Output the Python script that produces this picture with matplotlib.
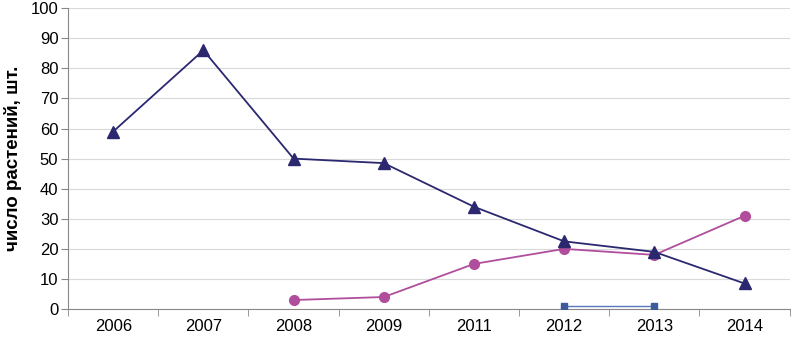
import matplotlib
matplotlib.use("Agg")
import matplotlib.pyplot as plt
import numpy as np

plt.rcParams["font.family"] = ["Liberation Sans", "DejaVu Sans"]

years = ["2006", "2007", "2008", "2009", "2011", "2012", "2013", "2014"]
triangles = [59, 86, 50, 48.5, 34, 22.5, 19, 8.5]
circles = [np.nan, np.nan, 3, 4, 15, 20, 18, 31]
squares = [np.nan, np.nan, np.nan, np.nan, np.nan, 1, 1, np.nan]

fig = plt.figure(figsize=(7.92, 3.40), dpi=100)
ax = fig.add_axes([0.086, 0.091, 0.911, 0.885])

x = np.arange(len(years))
ax.plot(x, triangles, color="#2b2870", lw=1.3, marker="^", ms=8, zorder=4)
ax.plot(x, circles, color="#b04e9c", lw=1.3, marker="o", ms=7, zorder=3)
ax.plot(x, squares, color="#5878b8", lw=1.0, marker="s", ms=4,
        mfc="#3c5a9c", mec="#3c5a9c", zorder=3)

ax.set_xlim(-0.5, len(years) - 0.5)
ax.set_ylim(0, 100)
ax.set_yticks(range(0, 101, 10))
ax.set_xticks(x)
ax.set_xticklabels(years)
ax.set_xticks(np.arange(-0.5, len(years)), minor=True)
ax.tick_params(axis="x", which="major", length=0, pad=7, labelsize=12)
ax.tick_params(axis="x", which="minor", length=5, color="#888888")
ax.tick_params(axis="y", length=5, color="#888888", labelsize=12, pad=2)
ax.grid(axis="y", color="#d9d9d9", lw=0.8)
ax.set_axisbelow(True)
for s in ("top", "right"):
    ax.spines[s].set_visible(False)
for s in ("left", "bottom"):
    ax.spines[s].set_color("#888888")

ax.set_ylabel("число растений, шт.", fontsize=13.5, fontweight="bold", labelpad=6)

fig.savefig("out.png", dpi=100)
